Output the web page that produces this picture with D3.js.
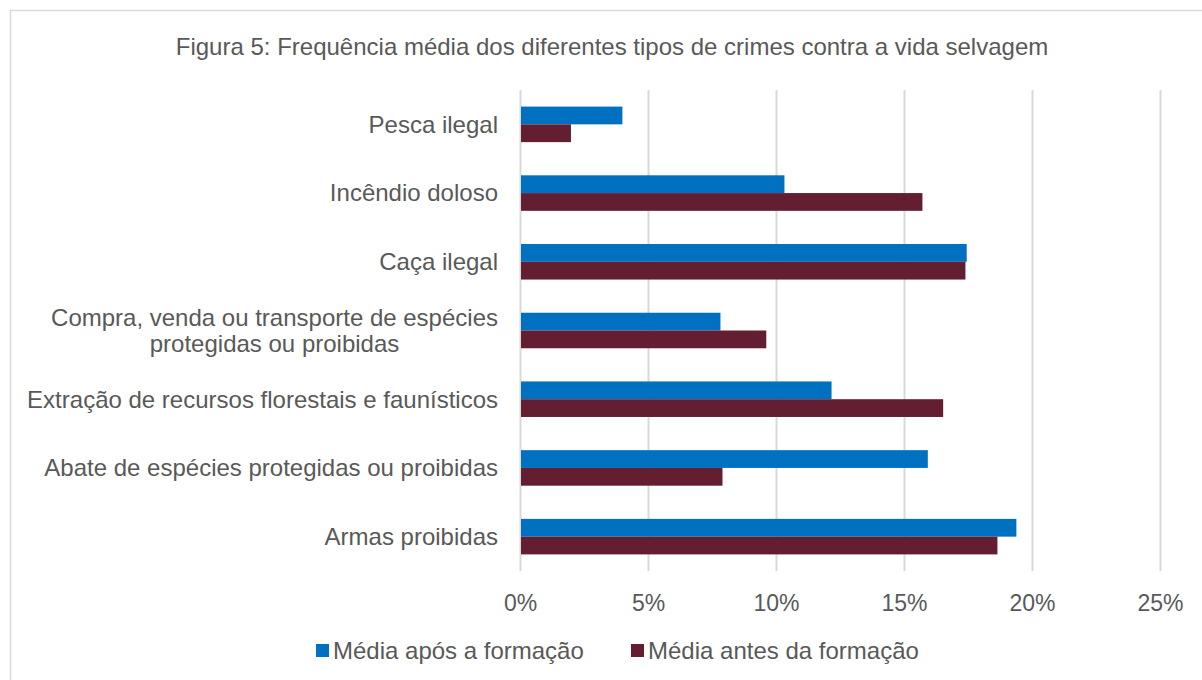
<!DOCTYPE html>
<html><head><meta charset="utf-8">
<script src="https://cdn.jsdelivr.net/npm/d3@7"></script>
<style>body{margin:0;background:#fff}svg{display:block}text{font-family:"Liberation Sans",Arial,sans-serif;fill:#595959}</style>
</head><body>
<script>
const categories = ["Pesca ilegal","Incêndio doloso","Caça ilegal","Compra, venda ou transporte de espécies\nprotegidas ou proibidas","Extração de recursos florestais e faunísticos","Abate de espécies protegidas ou proibidas","Armas proibidas"];
const seriesNames = ["Média após a formação","Média antes da formação"];
const afterValues = [4.0, 10.33, 17.45, 7.83, 12.17, 15.93, 19.39];
const beforeValues = [1.99, 15.72, 17.40, 9.62, 16.53, 7.91, 18.65];
const tickValues = [0,5,10,15,20,25];
const colors = ["#0070C0","#641E32"];
const title = "Figura 5: Frequência média dos diferentes tipos de crimes contra a vida selvagem";

const W=1202,H=680;
const FS="24px";
const svg=d3.select("body").append("svg").attr("width",W).attr("height",H);
svg.append("path").attr("d",`M10.5,${H+2}V10.5H${W+2}`).attr("fill","none").attr("stroke","#d9d9d9").attr("stroke-width",1.5);

const x=d3.scaleLinear().domain([0,25]).range([520,1160]);
const y=d3.scaleBand().domain(categories).range([90,571]).paddingInner(0.483).paddingOuter(0.2415);
const y1=d3.scaleBand().domain([0,1]).range([0,y.bandwidth()]);

svg.append("text").attr("x",612).attr("y",47).attr("dy","0.35em").attr("text-anchor","middle").style("font-size","24px").text(title);

const grid=svg.append("g").attr("transform","translate(0,571)")
  .call(d3.axisBottom(x).tickValues(tickValues).tickSize(-481).tickFormat(d=>d+"%"));
grid.select(".domain").remove();
grid.selectAll(".tick line").attr("stroke","#d9d9d9").attr("stroke-width",2);
grid.selectAll(".tick text").attr("y",32).attr("dy","0.35em").style("font-size","23px").style("font-family","Liberation Sans, Arial, sans-serif").attr("fill","#595959");

const data=categories.map((c,i)=>({c,vals:[afterValues[i],beforeValues[i]]}));
const g=svg.append("g");
data.forEach(d=>{
  d.vals.forEach((v,j)=>{
    g.append("rect").attr("x",x(0)+1).attr("y",y(d.c)+y1(j)).attr("width",x(v)-x(0)-1).attr("height",y1.bandwidth())
     .attr("fill",colors[j]);
  });
});

const lab=svg.append("g");
categories.forEach(c=>{
  const lines=c.split("\n");
  const cy=y(c)+y.bandwidth()/2;
  if(lines.length===1){
    lab.append("text").attr("x",498).attr("y",cy).attr("dy","0.35em").attr("text-anchor","end").style("font-size",FS).text(c);
  } else {
    const t0=lab.append("text").attr("x",498).attr("y",cy-13).attr("dy","0.35em").attr("text-anchor","end").style("font-size",FS).text(lines[0]);
    const w=t0.node().getComputedTextLength();
    lab.append("text").attr("x",498-w/2).attr("y",cy+13).attr("dy","0.35em").attr("text-anchor","middle").style("font-size",FS).text(lines[1]);
  }
});

const leg=svg.append("g");
const legX=[316,631];
seriesNames.forEach((n,i)=>{
  leg.append("rect").attr("x",legX[i]).attr("y",644).attr("width",13).attr("height",13).attr("fill",colors[i]);
  leg.append("text").attr("x",legX[i]+17).attr("y",651).attr("dy","0.35em").style("font-size",FS).text(n);
});
</script>
</body></html>
